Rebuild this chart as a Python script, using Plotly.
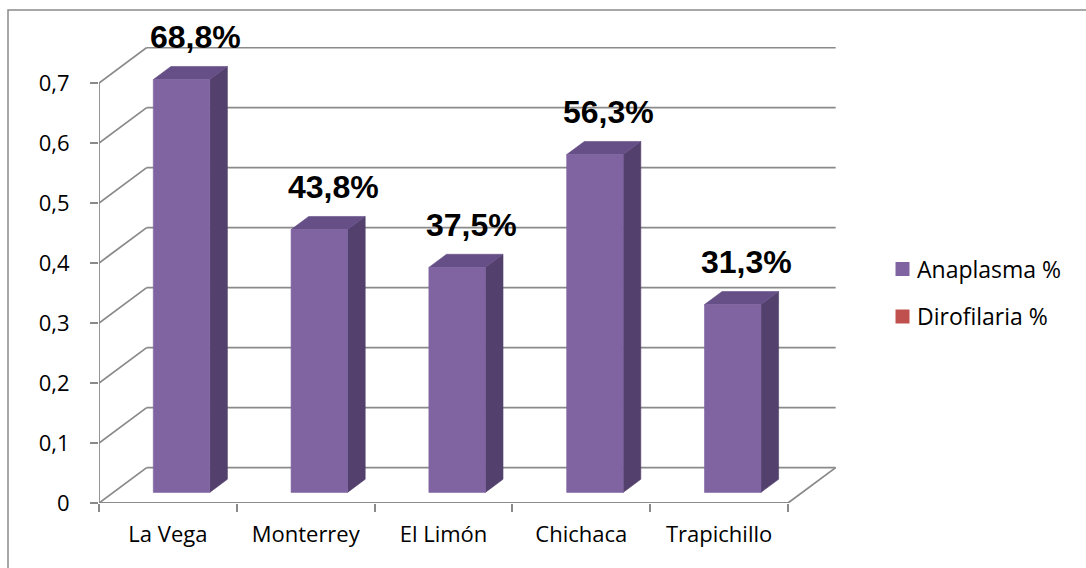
import plotly.graph_objects as go

# ---------------- data ----------------
categories = ["La Vega", "Monterrey", "El Limón", "Chichaca", "Trapichillo"]
anaplasma = [0.688, 0.438, 0.375, 0.563, 0.313]
bar_labels = ["68,8%", "43,8%", "37,5%", "56,3%", "31,3%"]
series_names = ["Anaplasma  %", "Dirofilaria  %"]
ytick_vals = [0, 0.1, 0.2, 0.3, 0.4, 0.5, 0.6, 0.7]
ytick_text = ["0", "0,1", "0,2", "0,3", "0,4", "0,5", "0,6", "0,7"]

# ---------------- geometry / style ----------------
W, H = 1086, 568
ML, MR, MT, MB = 99, 249, 47, 65
PW, PH = W - ML - MR, H - MT - MB
PX_PER_CAT = 137.8
PX_PER_UNIT = 600.0
XMAX = PW / PX_PER_CAT
YMAX = PH / PX_PER_UNIT
DX, DY = 0.346, 0.059          # depth offset (category units, value units)
BX0, BX1 = 0.29, 0.70          # bar extent inside a category (floor coords)
F1, F2 = 0.30, 0.67            # bar front / back depth fraction
LABEL_DX, LABEL_DY = 0.70, 0.088
GRID = "#8a8a8a"
FRONT, TOP, SIDE = "#8064A2", "#654F86", "#53406D"
RED = "#C0504D"
TICKFONT = dict(family="Open Sans", size=22, color="#000000")


def px_x(px):
    return (px - ML) / PW


def px_y(py):
    return (H - MB - py) / PH


fig = go.Figure()

# 3D bars
for i, v in enumerate(anaplasma):
    xl, xr = i + BX0, i + BX1
    s1x, s1y = F1 * DX, F1 * DY
    s2x, s2y = F2 * DX, F2 * DY
    faces = [
        (SIDE, [xr + s1x, xr + s2x, xr + s2x, xr + s1x, xr + s1x],
               [s1y, s2y, v + s2y, v + s1y, s1y]),
        (TOP, [xl + s1x, xr + s1x, xr + s2x, xl + s2x, xl + s1x],
              [v + s1y, v + s1y, v + s2y, v + s2y, v + s1y]),
        (FRONT, [xl + s1x, xr + s1x, xr + s1x, xl + s1x, xl + s1x],
                [s1y, s1y, v + s1y, v + s1y, s1y]),
    ]
    for col, xs, ys in faces:
        fig.add_trace(go.Scatter(
            x=xs, y=ys, mode="lines", fill="toself", fillcolor=col,
            line=dict(color=col, width=0.6), hoverinfo="skip",
            showlegend=False))
    # data label (y given in paper units so labels above the wall stay visible)
    fig.add_annotation(
        x=i + LABEL_DX, y=(v + LABEL_DY) / YMAX, xref="x", yref="paper",
        text=f"<b>{bar_labels[i]}</b>",
        showarrow=False, xanchor="center", yanchor="middle",
        font=dict(family="Liberation Sans, Arial", size=32, color="#000000"))

shapes = []
# back wall gridlines + side wall diagonals
for v in ytick_vals:
    shapes.append(dict(type="line", xref="x", yref="y", x0=0, y0=v, x1=DX, y1=v + DY,
                       line=dict(color=GRID, width=1.8), layer="below"))
    shapes.append(dict(type="line", xref="x", yref="y", x0=DX, y0=v + DY,
                       x1=len(categories) + DX, y1=v + DY,
                       line=dict(color=GRID, width=1.8), layer="below"))
# floor right edge
shapes.append(dict(type="line", xref="x", yref="y", x0=len(categories), y0=0,
                   x1=len(categories) + DX, y1=DY, line=dict(color=GRID, width=1.8),
                   layer="below"))
# front axes
shapes.append(dict(type="line", xref="x", yref="y", x0=0, y0=0, x1=len(categories), y1=0,
                   line=dict(color=GRID, width=1.8), layer="below"))
shapes.append(dict(type="line", xref="x", yref="y", x0=0, y0=0, x1=0, y1=ytick_vals[-1],
                   line=dict(color=GRID, width=1.8), layer="below"))
# outer frame
shapes.append(dict(type="rect", xref="paper", yref="paper",
                   x0=px_x(8), x1=px_x(1100), y0=px_y(590), y1=px_y(10),
                   line=dict(color="#8a8a8a", width=1.5), layer="below"))

# legend (manual)
leg_colors = [FRONT, RED]
leg_y = [269, 316.5]
for name, col, cy in zip(series_names, leg_colors, leg_y):
    shapes.append(dict(type="rect", xref="paper", yref="paper",
                       x0=px_x(895.5), x1=px_x(909.5), y0=px_y(cy + 7), y1=px_y(cy - 7),
                       fillcolor=col, line=dict(width=0)))
    fig.add_annotation(x=px_x(915), y=px_y(cy), xref="paper", yref="paper",
                       text=name.replace("  ", " "), showarrow=False,
                       xanchor="left", yanchor="middle",
                       font=dict(family="Open Sans", size=23, color="#000000"))

fig.update_layout(
    width=W, height=H,
    margin=dict(l=ML, r=MR, t=MT, b=MB, pad=0),
    paper_bgcolor="white", plot_bgcolor="white",
    shapes=shapes, showlegend=False,
    xaxis=dict(range=[0, XMAX], showgrid=False, zeroline=False, showline=False,
               tickmode="array", tickvals=[i + 0.5 for i in range(len(categories))],
               ticktext=categories, ticks="", tickfont=TICKFONT,
               ticklabelstandoff=16,
               minor=dict(tickmode="array", tickvals=list(range(len(categories) + 1)),
                          ticks="outside", ticklen=8, tickwidth=1.8, tickcolor=GRID),
               fixedrange=True),
    yaxis=dict(range=[0, YMAX], showgrid=False, zeroline=False, showline=False,
               tickmode="array", tickvals=ytick_vals, ticktext=ytick_text,
               ticks="outside", ticklen=8, tickwidth=1.8, tickcolor=GRID,
               tickfont=TICKFONT, ticklabelstandoff=16, fixedrange=True),
)

fig.write_html("out.html")
